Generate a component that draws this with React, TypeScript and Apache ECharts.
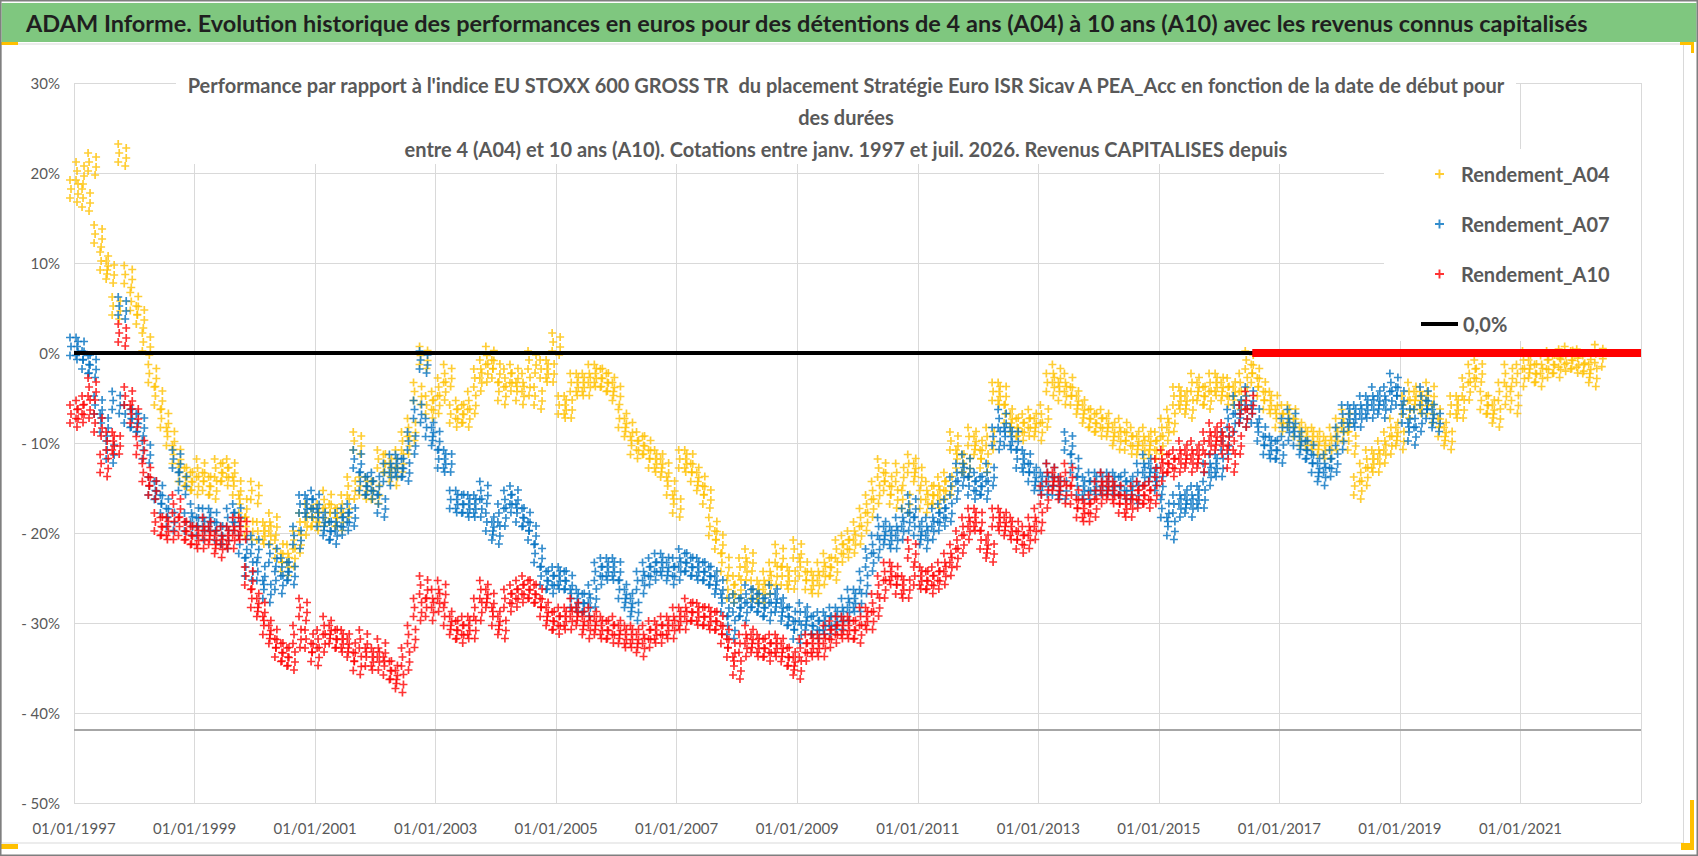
import React, { useEffect, useRef } from 'react';
import * as echarts from 'echarts';

// Sample dates: one value every 0.1 year from 01/01/1997
const startYear = 1997;
const step = 0.1;

const rendementA04 = [
  18, 20, 17, 21, 13, 10, 9, 5, 22, 8.5,
  5.5, 4, 1, -2.5, -5, -7.5, -9.5, -11.5, -13.5, -14,
  -14.5, -13, -14.5, -15, -13, -13.5, -13, -15, -17, -19.5,
  -15.5, -20, -20, -19, -22, -23.5, -22.5, -21, -19, -18,
  -18.5, -18, -16.5, -18, -18.5, -17, -15, -10, -15, -15,
  -15.5, -12, -12.5, -13.5, -12, -10, -8.5, -4.5, -0.5, -6,
  -5.5, -4, -2.5, -7, -6.5, -7, -5.5, -3, -2, -0.5,
  -2, -4.5, -3, -2.5, -4.5, -3.5, -1, -5, -2, -2,
  1, -6, -6, -3.5, -3.5, -3.5, -2.5, -2.5, -3, -3.5,
  -4.5, -7.5, -8.5, -10.5, -10, -10.5, -12, -12, -13, -15,
  -17, -12, -12, -13.5, -14.5, -16, -19.5, -21, -23.5, -26.5,
  -26, -24, -23, -26.5, -26.5, -25.5, -24.5, -22.5, -25, -25,
  -22, -24, -25.5, -25.5, -24.5, -23.5, -24, -22, -21.5, -21,
  -20, -18.5, -17, -15.5, -13, -14.5, -16, -13.5, -16.5, -12.5,
  -13.5, -16.5, -15.5, -16, -15, -14.5, -10, -12, -12.5, -9.5,
  -10.5, -12, -9.5, -4.5, -4.5, -7, -8, -8.5, -8, -7.5,
  -8.5, -7, -3.5, -2.5, -4.5, -3.5, -5, -6, -7, -7.5,
  -8, -7.5, -8.5, -9.5, -8.5, -10, -9.5, -10.5, -9.5, -10.5,
  -10, -8.5, -7.5, -5, -5, -6, -3.5, -4.5, -5, -3.5,
  -3.5, -4.5, -4, -5, -3.5, -1, -2.5, -4, -5.5, -5.5,
  -7.5, -7, -7, -8.5, -9.5, -9.5, -9.5, -10.5, -10.5, -9.5,
  -8.5, -7.5, -10, -15, -13.5, -12, -12, -11, -10, -8.5,
  -9.5, -6, -4.5, -5.5, -5.5, -4.5, -7, -8.5, -9.5, -6,
  -6, -4, -2.5, -2, -5.5, -6, -7, -4.5, -2.5, -5.5,
  -2.5, -1, -2, -2.5, -1.5, -1, -1.5, -0.8, -0.5, -1,
  -0.8, -1.5, -2.5, -0.3,
];

const rendementA07 = [
  0.5, 0.5, -1, -1.5, -6, -8, -11, -5.5, 5, -7,
  -7.5, -8, -11, -15, -15.5, -17, -18.5, -12, -14.5, -19,
  -18, -19.5, -18.5, -18.5, -20, -20.5, -18.5, -18, -21.5, -24,
  -21.5, -24.5, -26.5, -22.5, -25.5, -24, -24.5, -20.5, -17, -17,
  -16.5, -18.5, -19.5, -20, -19, -18.5, -18, -12, -14.5, -15,
  -14.5, -17, -13.5, -12.5, -12.5, -13, -10, -6.5, -1, -8.5,
  -9.5, -12, -12, -16.5, -16.5, -17, -17, -17, -15.5, -19,
  -20, -18, -16.5, -16, -18, -18.5, -20, -22.5, -25, -25.5,
  -25, -25, -25.5, -27.5, -27.5, -28, -27, -24.5, -24, -24,
  -24, -26.5, -27.5, -28.5, -25.5, -24.5, -24, -23.5, -23.5, -24.5,
  -24, -23, -23.5, -24, -24, -24.5, -25, -26, -28, -30.5,
  -28, -28.5, -27, -27.5, -28, -28.5, -27, -28, -29, -29.5,
  -31, -29, -30, -30.5, -30, -30, -29.5, -29.5, -28.5, -27.5,
  -27.5, -25.5, -23, -21.5, -19.5, -20.5, -20.5, -19.5, -18.5, -17,
  -19.5, -20.5, -19.5, -18.5, -18, -17.5, -15, -13.5, -12.5, -15,
  -14.5, -15, -13.5, -9.5, -7.5, -9.5, -9.5, -12, -12, -13.5,
  -14.5, -14.5, -13.5, -15, -15, -10, -12.5, -15, -15, -14.5,
  -14.5, -14.5, -14.5, -14.5, -15, -14.5, -15.5, -13.5, -12.5, -13.5,
  -14.5, -17.5, -19.5, -17, -16, -17, -16, -16, -13.5, -12.5,
  -12.5, -10, -7.5, -6, -7, -5, -7, -9, -10.5, -10.5,
  -11, -8.5, -7.5, -9.5, -10.5, -11, -12.5, -13.5, -12.5, -12,
  -9.5, -7, -7, -7, -6, -6, -5, -6, -5, -3.5,
  -5, -7, -9, -7.5, -5, -6.5, -7.5,
];

const rendementA10 = [
  -7, -6.5, -6, -4, -8, -12.5, -10, -10, 2, -5,
  -7, -10.5, -13.5, -15, -19, -19.5, -19.5, -17, -19.5, -20,
  -20.5, -20.5, -19.5, -20.5, -21.5, -20.5, -20.5, -19.5, -19.5, -25,
  -27.5, -28.5, -30.5, -31.5, -33, -33.5, -34, -31.5, -28.5, -32,
  -33.5, -32, -30.5, -31.5, -32, -32, -33, -34.5, -32, -34,
  -34, -33, -35, -35.5, -36.5, -34, -31.5, -28.5, -26, -28.5,
  -27.5, -26.5, -29.5, -30.5, -31, -30.5, -30.5, -28.5, -26.5, -27.5,
  -29.5, -30.5, -27.5, -27, -26.5, -26, -26.5, -27, -28.5, -29.5,
  -30, -29.5, -29.5, -28.5, -29.5, -30.5, -29.5, -30.5, -30.5, -31,
  -30.5, -31.5, -31.5, -31.5, -32.5, -31.5, -31, -31, -30.5, -30.5,
  -29.5, -29.5, -28.5, -29, -29, -29.5, -29.5, -30, -31.5, -33,
  -35, -32.5, -31.5, -32.5, -32.5, -33, -32.5, -32.5, -33.5, -34,
  -35, -33, -32.5, -32.5, -32.5, -31.5, -31, -30.5, -30.5, -30.5,
  -31, -29.5, -29.5, -28, -26, -24.5, -24.5, -26, -26, -22,
  -25, -25, -25.5, -25, -24.5, -23.5, -22.5, -21, -19.5, -18.5,
  -18.5, -21, -22, -18.5, -18.5, -19.5, -19.5, -21, -20.5, -19.5,
  -18.5, -16, -13.5, -14.5, -15.5, -13.5, -16, -17.5, -17.5, -17,
  -15.5, -14.5, -15.5, -15.5, -17, -17, -16, -15.5, -16, -15.5,
  -13, -12, -12.5, -12, -11, -12, -11, -12, -10, -9,
  -10, -9, -12, -10, -7, -5.5,
];

// A10 values are 0 from this date on (no 10-year window yet)
const a10ZeroFrom = 2016.55;
const axisStart = 1997;
const axisEnd = 2023;
const axisCrossAt = -41.9;

const FONT = "Lato, 'Liberation Sans', Arial, sans-serif";
const GREY_TEXT = '#595959';

const plusAt = (cx: number, cy: number, r = 4, w = 0.85) =>
  `M${cx - w},${cy - r}H${cx + w}V${cy - w}H${cx + r}V${cy + w}H${cx + w}V${cy + r}H${cx - w}V${cy + w}H${cx - r}V${cy - w}H${cx - w}Z`;

// a small bunch of "+" so the daily cloud reads as a band
const clusterCentres = [[4, 4], [12, 8], [5, 13], [12, 18], [4, 22], [11, 26]];
const clusterSymbol = 'path://' + clusterCentres.map(([x, y]) => plusAt(x, y)).join('');
const clusterSize = [16, 30];
const plusSymbol = 'path://' + plusAt(4, 4);

const toPoints = (values: number[]) =>
  values.map((v, i) => [Math.round((startYear + i * step) * 100) / 100, v]);

const App: React.FC = () => {
  const chartRef = useRef<HTMLDivElement>(null);

  useEffect(() => {
    document.body.style.margin = '0';
    if (!chartRef.current) return;
    const chart = echarts.init(chartRef.current, undefined, { renderer: 'svg' });

    const scatter = (name: string, color: string, values: number[]) => ({
      name,
      type: 'scatter',
      data: toPoints(values),
      symbol: clusterSymbol,
      symbolSize: clusterSize,
      itemStyle: { color },
      z: 2,
      silent: true,
    });

    const legendText = {
      fontFamily: FONT,
      fontSize: 20,
      fontWeight: 'bold',
      color: GREY_TEXT,
      lineHeight: 22,
    };

    chart.setOption({
      animation: false,
      backgroundColor: '#fff',
      grid: { left: 74, right: 57, top: 83, bottom: 53 },
      xAxis: {
        type: 'value',
        min: axisStart,
        max: axisEnd,
        interval: 2,
        axisLine: { show: false },
        axisTick: { show: false },
        splitLine: { show: true, lineStyle: { color: '#d9d9d9', width: 1 } },
        axisLabel: {
          margin: 17,
          fontFamily: FONT,
          fontSize: 15,
          color: GREY_TEXT,
          formatter: (v: number) => (v >= axisEnd ? '' : `01/01/${v}`),
        },
      },
      yAxis: {
        type: 'value',
        min: -50,
        max: 30,
        interval: 10,
        axisLine: { show: false },
        axisTick: { show: false },
        splitLine: { lineStyle: { color: '#d9d9d9', width: 1 } },
        axisLabel: {
          margin: 14,
          fontFamily: FONT,
          fontSize: 15,
          color: GREY_TEXT,
          formatter: (v: number) => (v < 0 ? `- ${-v}%` : `${v}%`),
        },
      },
      legend: [
        {
          data: [
            { name: 'Rendement_A04', icon: plusSymbol },
            { name: 'Rendement_A07', icon: plusSymbol },
            { name: 'Rendement_A10', icon: plusSymbol },
          ],
          orient: 'vertical',
          left: 1430,
          top: 158,
          itemWidth: 9,
          itemHeight: 9,
          itemGap: 28,
          selectedMode: false,
          textStyle: { ...legendText, padding: [0, 0, 0, 12] },
        },
        {
          data: [{ name: '0,0%', icon: 'rect' }],
          left: 1416,
          top: 308,
          itemWidth: 37,
          itemHeight: 4,
          selectedMode: false,
          textStyle: legendText,
        },
      ],
      graphic: [
        // title bar
        { type: 'rect', shape: { x: 1.5, y: 3, width: 1695, height: 39 }, style: { fill: '#7fc77f' }, z: 5 },
        {
          type: 'text',
          x: 26,
          y: 23,
          z: 6,
          style: {
            text: 'ADAM Informe. Evolution historique des performances en euros pour des détentions de 4 ans (A04) à 10 ans (A10) avec les revenus connus capitalisés',
            font: `bold 23.5px ${FONT}`,
            fill: '#1f1f1f',
            verticalAlign: 'middle',
          },
        },
        // chart frame
        { type: 'rect', shape: { x: 1.5, y: 44, width: 1682, height: 799 }, style: { fill: 'none', stroke: '#d9d9d9', lineWidth: 1 }, z: 5 },
        // chart title box
        { type: 'rect', shape: { x: 176, y: 62, width: 1340, height: 102 }, style: { fill: '#fff' }, z: 1 },
        {
          type: 'text',
          x: 846,
          y: 69,
          z: 6,
          style: {
            text: "Performance par rapport à l'indice EU STOXX 600 GROSS TR  du placement Stratégie Euro ISR Sicav A PEA_Acc en fonction de la date de début pour\ndes durées\nentre 4 (A04) et 10 ans (A10). Cotations entre janv. 1997 et juil. 2026. Revenus CAPITALISES depuis",
            font: `bold 20px ${FONT}`,
            fill: GREY_TEXT,
            align: 'center',
            verticalAlign: 'top',
            lineHeight: 32,
          },
        },
        // legend box
        { type: 'rect', shape: { x: 1384, y: 149, width: 257, height: 192 }, style: { fill: '#fff' }, z: 1 },
        // selection handles
        { type: 'rect', shape: { x: 0, y: 42, width: 18, height: 3 }, style: { fill: '#ffc000' }, z: 7 },
        { type: 'rect', shape: { x: 1680, y: 42, width: 14, height: 3 }, style: { fill: '#ffc000' }, z: 7 },
        { type: 'rect', shape: { x: 1691, y: 42, width: 3, height: 11 }, style: { fill: '#ffc000' }, z: 7 },
        { type: 'rect', shape: { x: 1690, y: 800, width: 4, height: 50 }, style: { fill: '#ffc000' }, z: 7 },
        { type: 'rect', shape: { x: 1681, y: 843, width: 13, height: 7 }, style: { fill: '#ffc000' }, z: 7 },
        { type: 'rect', shape: { x: 0, y: 844, width: 18, height: 5 }, style: { fill: '#ffc000' }, z: 7 },
        // outer frame
        { type: 'rect', shape: { x: 0.75, y: 0.75, width: 1696.5, height: 854.5 }, style: { fill: 'none', stroke: '#7f7f7f', lineWidth: 1.5 }, z: 8 },
      ],
      series: [
        {
          name: 'axe',
          type: 'line',
          data: [[axisStart, axisCrossAt], [axisEnd, axisCrossAt]],
          symbol: 'none',
          lineStyle: { color: '#a6a6a6', width: 2 },
          silent: true,
          z: 1,
        },
        scatter('Rendement_A04', '#ffc000', rendementA04),
        scatter('Rendement_A07', '#0070c0', rendementA07),
        scatter('Rendement_A10', '#ff0000', rendementA10),
        {
          name: '0,0%',
          type: 'line',
          data: [[axisStart, 0], [axisEnd, 0]],
          symbol: 'none',
          itemStyle: { color: '#000' },
          lineStyle: { color: '#000', width: 4 },
          silent: true,
          z: 3,
        },
        {
          name: 'A10 nul',
          type: 'line',
          data: [[a10ZeroFrom, 0], [axisEnd, 0]],
          symbol: 'none',
          lineStyle: { color: '#ff0000', width: 8 },
          silent: true,
          z: 4,
        },
      ],
    });

    return () => chart.dispose();
  }, []);

  return <div ref={chartRef} style={{ width: 1698, height: 856 }} />;
};

export default App;
